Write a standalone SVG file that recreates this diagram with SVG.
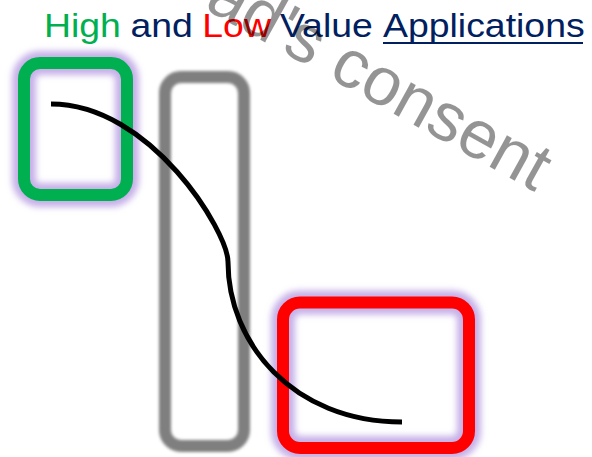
<svg xmlns="http://www.w3.org/2000/svg" width="592" height="457" viewBox="0 0 592 457">
  <style>
    .title { font-family: "Liberation Sans", Arial, sans-serif; font-size: 34px; }
    .glow { fill: none; stroke: #c6b0e8; stroke-width: 24; filter: url(#soft3); }
    .box { fill: none; stroke-width: 12; }
    .mark { font-family: "Liberation Sans", Arial, sans-serif; font-size: 68px; fill: #000; fill-opacity: 0.42; }
  </style>
  <defs>
    <filter id="soft3" x="-20%" y="-20%" width="140%" height="140%">
      <feGaussianBlur stdDeviation="3"/>
    </filter>
    <filter id="soft1" x="-20%" y="-10%" width="140%" height="120%">
      <feGaussianBlur stdDeviation="1.4"/>
    </filter>
  </defs>
  <rect width="592" height="457" fill="#ffffff"/>

  <!-- heading -->
  <g id="title">
    <text class="title" transform="translate(0,37) scale(1.1,1)">
      <tspan x="40" fill="#00b050">High</tspan>
      <tspan x="118.6" fill="#002060">and</tspan>
      <tspan x="183.9" fill="#ff0000">Low</tspan>
      <tspan x="254.5" fill="#002060">Value</tspan>
      <tspan x="348.2" fill="#002060">Applications</tspan>
    </text>
    <line x1="383" y1="43" x2="583" y2="43" stroke="#002060" stroke-width="2"/>
  </g>

  <!-- high value box -->
  <g id="high">
    <rect class="glow" x="24" y="63" width="103" height="132" rx="16"/>
    <rect class="box" x="24" y="63" width="103" height="132" rx="16" stroke="#00b050"/>
  </g>

  <!-- middle column -->
  <g id="middle">
    <rect class="box" x="165" y="77" width="79" height="369" rx="16" stroke="#7f7f7f" filter="url(#soft1)"/>
  </g>

  <!-- low value box -->
  <g id="low">
    <rect class="glow" x="283" y="302.5" width="186" height="145.5" rx="17"/>
    <rect class="box" x="283" y="302.5" width="186" height="145.5" rx="17" stroke="#ff0000"/>
  </g>

  <g id="connectors">
    <path d="M51,104 C151,104 228,232 228,262 C228,342 292,422 402,422" fill="none" stroke="#000" stroke-width="5"/>
  </g>

  <text class="mark" transform="translate(203,8) rotate(29)">ad's consent</text>
</svg>
